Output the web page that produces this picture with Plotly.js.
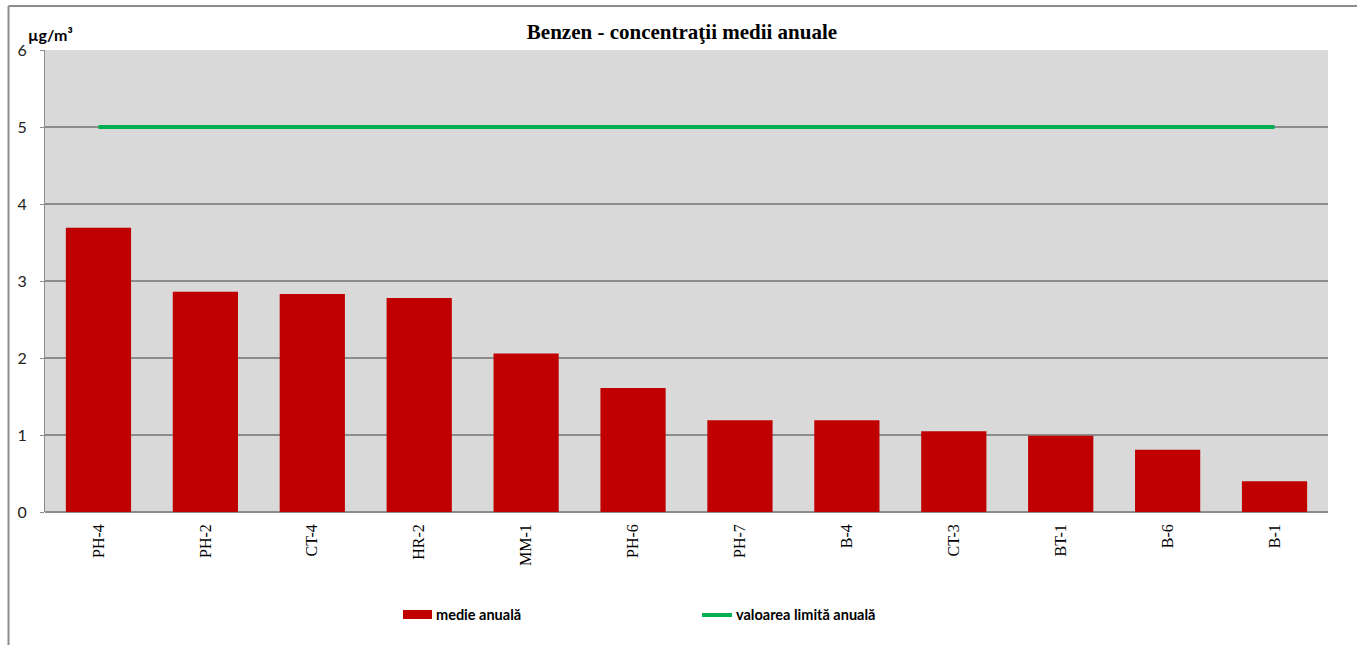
<!DOCTYPE html>
<html>
<head>
<meta charset="utf-8">
<script src="https://cdn.plot.ly/plotly-3.0.1.min.js"></script>
<style>
html,body{margin:0;padding:0;background:#fff;}
#chart{width:1357px;height:645px;}
</style>
</head>
<body>
<div id="chart"></div>
<script>
var stations = ["PH-4","PH-2","CT-4","HR-2","MM-1","PH-6","PH-7","B-4","CT-3","BT-1","B-6","B-1"];
var annualMean = [3.69, 2.86, 2.83, 2.78, 2.06, 1.61, 1.19, 1.19, 1.05, 0.99, 0.81, 0.40];
var annualLimit = [5, 5, 5, 5, 5, 5, 5, 5, 5, 5, 5, 5];
var yTicks = [0, 1, 2, 3, 4, 5, 6];
var chartTitle = "Benzen - concentraţii medii anuale";
var unitLabel = "µg/m³";
var seriesNames = ["medie anuală", "valoarea limită anuală"];

var W = 1357, H = 645;
var L = 45, R = 29, T = 50, B = 133;
var pw = W - L - R, ph = H - T - B;
function px(x){ return (x - L) / pw; }
function py(y){ return (H - B - y) / ph; }

var traces = [
  {type: "bar", x: stations, y: annualMean, name: seriesNames[0],
   marker: {color: "#C00000"}, showlegend: false, hoverinfo: "x+y"},
  {type: "scatter", mode: "lines", x: stations, y: annualLimit, name: seriesNames[1],
   line: {color: "#00B050", width: 4}, showlegend: false}
];

var frameColor = "#8c8c8c";
var layout = {
  width: W, height: H,
  margin: {l: L, r: R, t: T, b: B},
  paper_bgcolor: "#ffffff",
  plot_bgcolor: "#D9D9D9",
  bargap: 0.39,
  title: {text: "<b>" + chartTitle + "</b>", x: 682 / W, xanchor: "center",
          y: 1 - 32 / H, yanchor: "middle",
          font: {family: "Liberation Serif", size: 21, color: "#000"}},
  xaxis: {
    type: "category", showgrid: false, zeroline: false, showline: false,
    ticks: "", tickangle: -90, ticklabelstandoff: 8,
    tickfont: {family: "Liberation Serif", size: 16, color: "#000"}
  },
  yaxis: {
    range: [0, 6], tickvals: yTicks, ticktext: yTicks.map(String),
    showgrid: true, gridcolor: frameColor, gridwidth: 2,
    zeroline: true, zerolinecolor: frameColor, zerolinewidth: 2,
    showline: true, linecolor: frameColor, linewidth: 1,
    ticks: "outside", ticklen: 4, tickcolor: frameColor, tickwidth: 1,
    ticklabelstandoff: 10,
    tickfont: {family: "Lato", size: 16, color: "#222"}
  },
  shapes: [
    {type: "line", xref: "paper", yref: "paper", x0: px(8.5), x1: px(1360), y0: py(6), y1: py(6),
     line: {color: frameColor, width: 2}},
    {type: "line", xref: "paper", yref: "paper", x0: px(8.5), x1: px(8.5), y0: py(6), y1: py(648),
     line: {color: frameColor, width: 2}},
    {type: "rect", xref: "paper", yref: "paper", x0: px(403), x1: px(432), y0: py(610), y1: py(619),
     fillcolor: "#C00000", line: {width: 0}},
    {type: "line", xref: "paper", yref: "paper", x0: px(702), x1: px(732), y0: py(615), y1: py(615),
     line: {color: "#00B050", width: 4}}
  ],
  annotations: [
    {xref: "paper", yref: "paper", x: px(26), y: py(34), xanchor: "left", yanchor: "middle",
     text: "<b>" + unitLabel + "</b>", showarrow: false,
     font: {family: "Lato", size: 16, color: "#000"}},
    {xref: "paper", yref: "paper", x: px(434), y: py(614), xanchor: "left", yanchor: "middle",
     text: "<b>" + seriesNames[0] + "</b>", showarrow: false,
     font: {family: "Lato", size: 14.5, color: "#000"}},
    {xref: "paper", yref: "paper", x: px(734), y: py(614), xanchor: "left", yanchor: "middle",
     text: "<b>" + seriesNames[1] + "</b>", showarrow: false,
     font: {family: "Lato", size: 14.5, color: "#000"}}
  ]
};

Plotly.newPlot("chart", traces, layout, {displayModeBar: false, staticPlot: true});
</script>
</body>
</html>
